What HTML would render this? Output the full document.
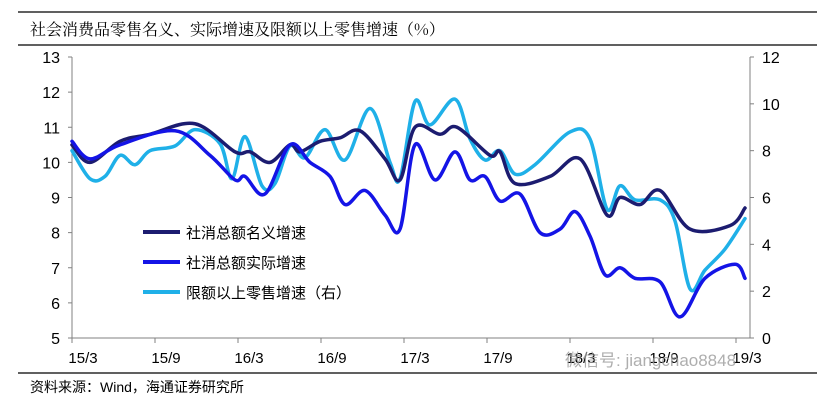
<!DOCTYPE html>
<html><head><meta charset="utf-8"><style>
body{margin:0;background:#fff;}
svg text{font-family:"Liberation Sans","Noto Sans CJK SC",sans-serif;}
</style></head><body>
<svg id="s" width="817" height="401" xmlns="http://www.w3.org/2000/svg">
<line x1="18" y1="12" x2="817" y2="12" stroke="#000" stroke-width="1.2"/>
<text x="30" y="35" font-size="16" fill="#000" style="font-family:'Noto Serif CJK SC','Noto Sans CJK SC',serif">社会消费品零售名义、实际增速及限额以上零售增速（%）</text>
<line x1="18" y1="45" x2="817" y2="45" stroke="#000" stroke-width="1.2"/>
<g id="ax" stroke="#808080" stroke-width="1" fill="none"></g>
<g id="lb" font-size="16" fill="#000"></g>
<g id="ln" fill="none" stroke-linecap="round" stroke-linejoin="round"></g>
<line x1="143" y1="232" x2="180" y2="232" stroke="#1c1c70" stroke-width="4"/>
<line x1="143" y1="262" x2="180" y2="262" stroke="#1414e6" stroke-width="4"/>
<line x1="143" y1="292" x2="180" y2="292" stroke="#1fb0e8" stroke-width="4"/>
<text x="186" y="238" font-size="15">社消总额名义增速</text>
<text x="186" y="268" font-size="15">社消总额实际增速</text>
<text x="186" y="298" font-size="15">限额以上零售增速（右）</text>
<text x="565" y="366" font-size="17" fill="#9a9a9a" opacity="0.8">微信号: jiangchao8848</text>
<line x1="18" y1="373" x2="817" y2="373" stroke="#000" stroke-width="1.2"/>
<text x="30" y="392" font-size="14">资料来源：Wind，海通证券研究所</text>
</svg>
<script>
var ns="http://www.w3.org/2000/svg";
function el(p,t,a,txt){var e=document.createElementNS(ns,t);for(var k in a)e.setAttribute(k,a[k]);if(txt!==undefined)e.textContent=txt;document.getElementById(p).appendChild(e);return e;}
var L=72,R=750,T=57,B=338;
function yl(v){return T+(13-v)*(B-T)/8;}
function yr(v){return B-v*(B-T)/12;}
el("ax","line",{x1:L,y1:T,x2:L,y2:B});
el("ax","line",{x1:R,y1:T,x2:R,y2:B});
el("ax","line",{x1:L,y1:B,x2:R,y2:B});
for(var v=5;v<=13;v++){var y=yl(v);el("ax","line",{x1:L-4,y1:y,x2:L,y2:y});el("lb","text",{x:L-12,y:y+6,"text-anchor":"end"},v);}
for(var v=0;v<=12;v+=2){var y=yr(v);el("ax","line",{x1:R,y1:y,x2:R+4,y2:y});el("lb","text",{x:R+12,y:y+6},v);}
var xl=["15/3","15/9","16/3","16/9","17/3","17/9","18/3","18/9","19/3"];
for(var i=0;i<9;i++){var x=L+i*83;el("ax","line",{x1:x,y1:B,x2:x,y2:B+5});el("lb","text",{x:x+11,y:363,"text-anchor":"middle","font-size":"15"},xl[i]);}
function path(pts,f){var p=pts.map(function(q){return[q[0],f(q[1])]});var d="M"+p[0][0]+","+p[0][1];
for(var i=0;i<p.length-1;i++){var p0=p[Math.max(0,i-1)],p1=p[i],p2=p[i+1],p3=p[Math.min(p.length-1,i+2)];
var c1=[p1[0]+(p2[0]-p0[0])/6,p1[1]+(p2[1]-p0[1])/6],c2=[p2[0]-(p3[0]-p1[0])/6,p2[1]-(p3[1]-p1[1])/6];
d+=" C"+c1+" "+c2+" "+p2;}return d;}
var lim=[[72,8],[90,6.8],[105,6.9],[120,7.8],[135,7.4],[150,8.0],[175,8.2],[195,8.9],[220,8.3],[232,6.8],[245,8.6],[262,6.5],[275,6.6],[290,8.2],[305,7.7],[325,8.9],[345,7.6],[370,9.8],[390,7.5],[400,6.8],[415,10.1],[430,9.1],[455,10.2],[470,8.5],[485,7.6],[500,8.0],[515,7.0],[535,7.4],[570,8.8],[590,8.5],[607,5.5],[620,6.5],[635,5.9],[660,5.9],[675,5.0],[690,2.1],[705,2.9],[725,3.8],[745,5.1]];
var nom=[[72,10.5],[90,10.0],[120,10.6],[150,10.8],[195,11.1],[235,10.3],[250,10.3],[270,10.0],[290,10.5],[300,10.3],[320,10.6],[340,10.7],[360,10.9],[385,10.1],[400,9.5],[415,11.0],[440,10.8],[457,11.0],[490,10.2],[500,10.3],[515,9.4],[550,9.6],[580,10.1],[607,8.5],[620,9.0],[640,8.8],[660,9.2],[690,8.1],[730,8.2],[745,8.7]];
var real=[[72,10.6],[90,10.1],[120,10.5],[175,10.9],[210,10.2],[235,9.5],[245,9.6],[265,9.1],[290,10.5],[310,10.0],[330,9.6],[345,8.8],[365,9.2],[385,8.5],[400,8.1],[415,10.5],[435,9.5],[455,10.3],[470,9.5],[485,9.6],[500,8.9],[520,9.1],[540,8.0],[560,8.1],[575,8.6],[590,7.9],[605,6.8],[620,7.0],[635,6.7],[660,6.6],[680,5.6],[705,6.7],[735,7.1],[745,6.7]];
el("ln","path",{d:path(lim,yr),stroke:"#1fb0e8","stroke-width":"3.5"});
el("ln","path",{d:path(nom,yl),stroke:"#1c1c70","stroke-width":"3.5"});
el("ln","path",{d:path(real,yl),stroke:"#1414e6","stroke-width":"3.5"});
</script>
</body></html>
